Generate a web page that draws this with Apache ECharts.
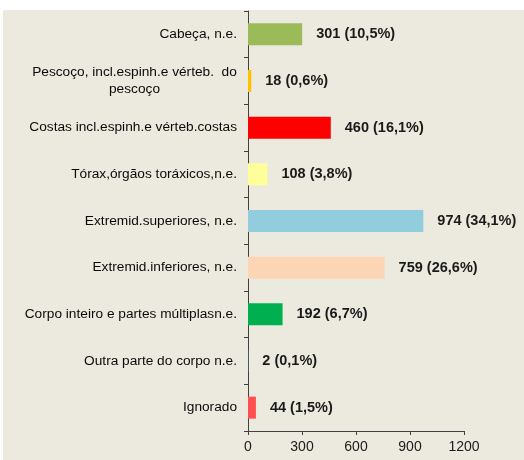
<!DOCTYPE html>
<html>
<head>
<meta charset="utf-8">
<script src="https://cdn.jsdelivr.net/npm/echarts@6/dist/echarts.min.js"></script>
<style>
  body { margin: 0; background: #ffffff; }
  #chart { position: absolute; left: 3px; top: 10px; width: 521px; height: 450px; background: #ECEADF; }
</style>
</head>
<body>
<div id="chart"></div>
<script>
const categories = [
  'Cabeça, n.e.',
  'Pescoço, incl.espinh.e vérteb.  do\npescoço',
  'Costas incl.espinh.e vérteb.costas',
  'Tórax,órgãos toráxicos,n.e.',
  'Extremid.superiores, n.e.',
  'Extremid.inferiores, n.e.',
  'Corpo inteiro e partes múltiplasn.e.',
  'Outra parte do corpo n.e.',
  'Ignorado'
]
const values = [301, 18, 460, 108, 974, 759, 192, 2, 44]
const percents = ['10,5%', '0,6%', '16,1%', '3,8%', '34,1%', '26,6%', '6,7%', '0,1%', '1,5%']
const colors = ['#9BBB59', '#FFC000', '#FF0000', '#FFFF99', '#92CDDD', '#FCD5B5', '#00B050', '#4F81BD', '#FF5050']
const xTicks = [0, 300, 600, 900, 1200]

const font = '"Liberation Sans", Arial, sans-serif'
let chart = echarts.init(document.getElementById('chart'))
let option = {
  animation: false,
  grid: { left: 245, right: 60, top: 1, bottom: 29 },
  xAxis: {
    type: 'value',
    min: xTicks[0],
    max: xTicks[xTicks.length - 1],
    interval: 300,
    splitLine: { show: false },
    axisLine: { show: true, lineStyle: { color: '#404040', width: 1 } },
    axisTick: { show: true, length: 4, lineStyle: { color: '#404040' } },
    axisLabel: {
      color: '#1a1a1a',
      fontSize: 14,
      fontFamily: font,
      margin: 9,
      formatter: v => String(v)
    }
  },
  yAxis: {
    type: 'category',
    inverse: true,
    data: categories,
    axisLine: { show: true, lineStyle: { color: '#404040', width: 1 } },
    axisTick: { show: true, length: 4, lineStyle: { color: '#404040' } },
    axisLabel: {
      color: '#0a0a0a',
      fontSize: 13.7,
      fontFamily: font,
      margin: 11,
      lineHeight: 17,
      formatter: function (v) {
        if (v.indexOf('\n') >= 0) {
          return v.split('\n').map(s => '{c|' + s + '}').join('\n')
        }
        return v
      },
      rich: {
        c: { width: 205, align: 'center', fontSize: 13.7, fontFamily: font, color: '#0a0a0a', lineHeight: 17 }
      }
    }
  },
  series: [
    {
      type: 'bar',
      barWidth: 22,
      data: values.map((v, i) => ({ value: v, itemStyle: { color: colors[i] } })),
      label: {
        show: true,
        position: 'right',
        distance: 14,
        color: '#1a1a1a',
        fontSize: 14.5,
        fontWeight: 'bold',
        fontFamily: font,
        formatter: p => values[p.dataIndex] + ' (' + percents[p.dataIndex] + ')'
      }
    }
  ]
}
chart.setOption(option)
</script>
</body>
</html>
